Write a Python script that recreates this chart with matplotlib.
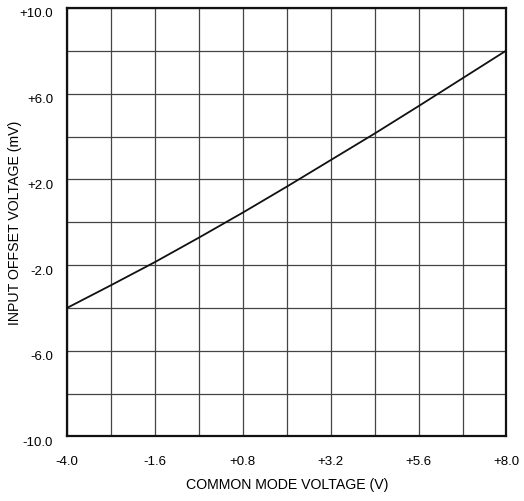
import matplotlib
matplotlib.use("Agg")
import matplotlib.pyplot as plt
import matplotlib.transforms as mtransforms

# ── data ──────────────────────────────────────────────────────────────────────
common_mode_v = [-4.0, -2.8, -1.6, -0.4, 0.8, 2.0, 3.2, 4.4, 5.6, 6.8, 8.0]
offset_mv = [-4.0, -2.94, -1.86, -0.72, 0.45, 1.66, 2.90, 4.14, 5.42, 6.72, 8.02]

x_major = [-4.0, -1.6, 0.8, 3.2, 5.6, 8.0]
x_minor = [-2.8, -0.4, 2.0, 4.4, 6.8]
y_major = [-10.0, -6.0, -2.0, 2.0, 6.0, 10.0]
y_minor = [-8.0, -4.0, 0.0, 4.0, 8.0]
x_labels = ["-4.0", "-1.6", "+0.8", "+3.2", "+5.6", "+8.0"]
y_labels = ["-10.0", "-6.0", "-2.0", "+2.0", "+6.0", "+10.0"]

plt.rcParams['font.family'] = ['Liberation Sans', 'DejaVu Sans']

fig = plt.figure(figsize=(5.24, 5.02), dpi=100)
ax = fig.add_axes([0.1279, 0.1285, 0.8387, 0.8536])

ax.plot(common_mode_v, offset_mv, color='#111111', linewidth=1.3)

ax.set_xlim(-4.0, 8.0)
ax.set_ylim(-10.0, 10.0)
ax.set_xticks(x_major)
ax.set_xticks(x_minor, minor=True)
ax.set_yticks(y_major)
ax.set_yticks(y_minor, minor=True)
ax.set_xticklabels(x_labels, fontsize=9.5)
ax.set_yticklabels(y_labels, fontsize=9.5)
ax.tick_params(which='both', length=0)
ax.tick_params(axis='x', pad=13)
ax.tick_params(axis='y', pad=10)

ax.grid(True, which='both', color='#444444', linewidth=0.9)
ax.set_axisbelow(True)

for spine in ax.spines.values():
    spine.set_linewidth(1.6)
    spine.set_color('#111111')

# y tick labels sit a little below their grid lines in the original
shift = mtransforms.ScaledTranslation(0, -4 / 100, fig.dpi_scale_trans)
for lbl in ax.get_yticklabels():
    lbl.set_transform(lbl.get_transform() + shift)

ax.set_xlabel("COMMON MODE VOLTAGE (V)", fontsize=10.2)
ax.set_ylabel("INPUT OFFSET VOLTAGE (mV)", fontsize=10.2)
ax.xaxis.label.set_verticalalignment('center')
ax.yaxis.label.set_verticalalignment('center')
ax.xaxis.set_label_coords(0.5, -0.111)
ax.yaxis.set_label_coords(-0.118, 0.5)

fig.savefig("out.png", dpi=100)
